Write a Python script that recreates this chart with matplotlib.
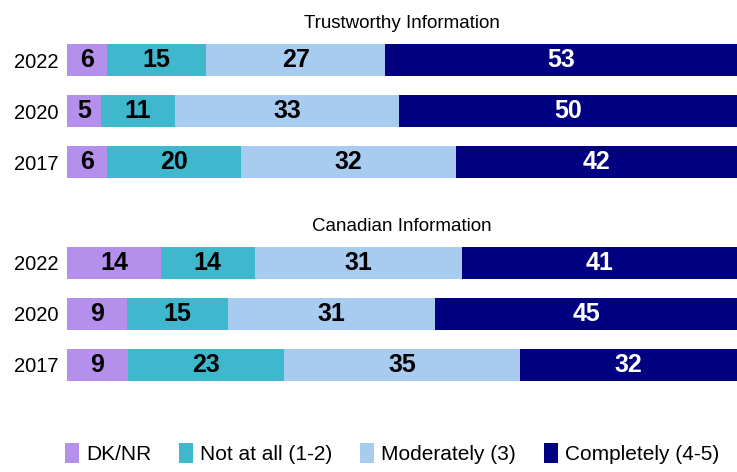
import matplotlib.pyplot as plt
import numpy as np

# Data
years = ["2022", "2020", "2017"]
series = ["DK/NR", "Not at all (1-2)", "Moderately (3)", "Completely (4-5)"]
colors = ["#B48FEB", "#3FB8CE", "#A8CBF0", "#000080"]
label_colors = ["black", "black", "black", "white"]

trust_dk = [6, 5, 6]
trust_not = [15, 11, 20]
trust_mod = [27, 33, 32]
trust_comp = [53, 50, 42]

canada_dk = [14, 9, 9]
canada_not = [14, 15, 23]
canada_mod = [31, 31, 35]
canada_comp = [41, 45, 32]

plt.rcParams["font.family"] = ["Liberation Sans", "DejaVu Sans"]

fig = plt.figure(figsize=(7.37, 4.72), dpi=100)
fig.patch.set_facecolor("white")

ax_top = fig.add_axes([0.0909, 0.6027, 0.9091, 0.3242])
ax_bot = fig.add_axes([0.0909, 0.1727, 0.9091, 0.3242])


def draw_panel(ax, title, rows):
    data = np.array(rows, dtype=float)  # shape: series x years
    totals = data.sum(axis=0)
    shares = data / totals * 100  # each row fills the full width
    y = np.arange(len(years))
    left = np.zeros(len(years))
    for i, name in enumerate(series):
        ax.barh(y, shares[i], left=left, height=0.64, color=colors[i],
                label=name, edgecolor="none")
        for j in range(len(years)):
            ax.text(left[j] + shares[i][j] / 2, y[j], f"{int(data[i][j])}",
                    ha="center", va="center", color=label_colors[i],
                    fontsize=18, fontweight="bold")
        left += shares[i]
    ax.set_xlim(0, 100)
    ax.set_ylim(2.5, -0.5)
    ax.set_yticks(y)
    ax.set_yticklabels(years, fontsize=14.5)
    ax.tick_params(axis="y", length=0, pad=6)
    ax.set_xticks([])
    for s in ax.spines.values():
        s.set_visible(False)
    ax.set_title(title, fontsize=13.5, pad=5)


draw_panel(ax_top, "Trustworthy Information",
           [trust_dk, trust_not, trust_mod, trust_comp])
draw_panel(ax_bot, "Canadian Information",
           [canada_dk, canada_not, canada_mod, canada_comp])

handles, labels = ax_top.get_legend_handles_labels()
fig.legend(handles, labels, loc="center", bbox_to_anchor=(0.532, 0.04),
           ncol=4, frameon=False, fontsize=15, handlelength=0.65,
           handleheight=1.1, handletextpad=0.35, columnspacing=1.35)

plt.savefig("out.png", dpi=100)
